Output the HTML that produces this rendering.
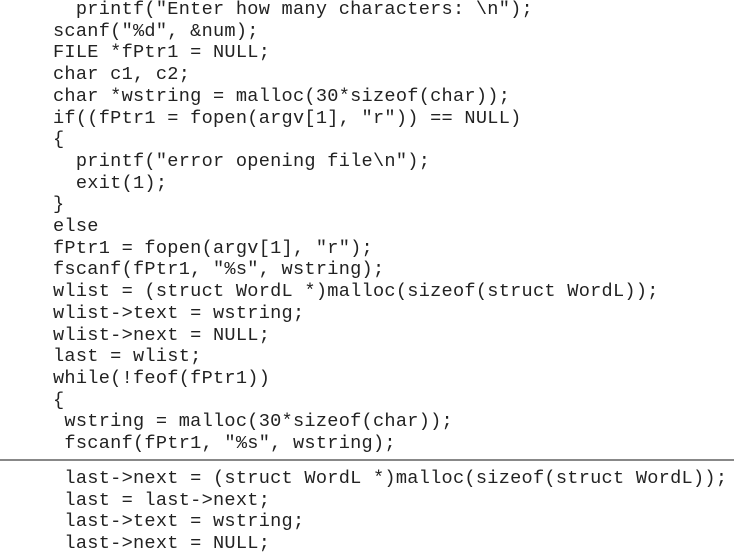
<!DOCTYPE html>
<html><head><style>
html,body{margin:0;padding:0;background:#fff;width:734px;height:558px;overflow:hidden;position:relative}
pre{position:absolute;left:53px;margin:0;font-family:"Liberation Mono",monospace;font-size:18.6px;letter-spacing:0.27px;line-height:21.7px;color:#222;white-space:pre}
#a{top:-1px}
#b{top:468px}
#sep{position:absolute;left:0;top:459px;width:734px;height:2px;background:#888}
</style></head><body>
<pre id="a">  printf("Enter how many characters: \n");
scanf("%d", &amp;num);
FILE *fPtr1 = NULL;
char c1, c2;
char *wstring = malloc(30*sizeof(char));
if((fPtr1 = fopen(argv[1], "r")) == NULL)
{
  printf("error opening file\n");
  exit(1);
}
else
fPtr1 = fopen(argv[1], "r");
fscanf(fPtr1, "%s", wstring);
wlist = (struct WordL *)malloc(sizeof(struct WordL));
wlist-&gt;text = wstring;
wlist-&gt;next = NULL;
last = wlist;
while(!feof(fPtr1))
{
 wstring = malloc(30*sizeof(char));
 fscanf(fPtr1, "%s", wstring);</pre>
<div id="sep"></div>
<pre id="b"> last-&gt;next = (struct WordL *)malloc(sizeof(struct WordL));
 last = last-&gt;next;
 last-&gt;text = wstring;
 last-&gt;next = NULL;</pre>
</body></html>
